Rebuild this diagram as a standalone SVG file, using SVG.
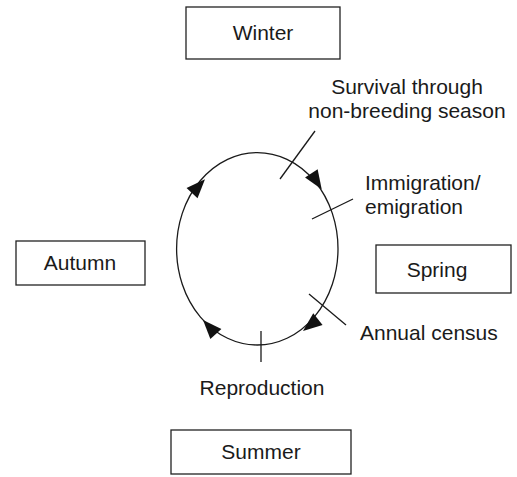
<svg xmlns="http://www.w3.org/2000/svg" width="517" height="477" viewBox="0 0 517 477">
<style>
.box{fill:#fff;stroke:#222;stroke-width:1.3}
.t{font-family:"Liberation Sans",Arial,sans-serif;font-size:21px;fill:#1a1a1a}
.c{text-anchor:middle}
.ln{stroke:#1a1a1a;stroke-width:1.3;fill:none}
.ah{fill:#111}
</style>
<defs>
<path id="ah" d="M0,0 L-19,-7.5 L-19,7.5 Z"/>
</defs>
<g id="winter"><rect class="box" x="186" y="7" width="154" height="52"/><text class="t c" x="263" y="40">Winter</text></g>
<g id="autumn"><rect class="box" x="16" y="241" width="129" height="44"/><text class="t c" x="80" y="270">Autumn</text></g>
<g id="spring"><rect class="box" x="376" y="245" width="135" height="48"/><text class="t c" x="437" y="277">Spring</text></g>
<g id="summer"><rect class="box" x="171" y="430" width="180" height="44"/><text class="t c" x="261" y="459">Summer</text></g>
<g id="cycle">
<ellipse class="ln" cx="257.3" cy="248.8" rx="80.7" ry="96.2"/>
<use href="#ah" class="ah" transform="translate(321.7,189.3) rotate(57)"/>
<use href="#ah" class="ah" transform="translate(205,179.3) rotate(-47)"/>
<use href="#ah" class="ah" transform="translate(303,331) rotate(141.7)"/>
<use href="#ah" class="ah" transform="translate(203,320) rotate(-132.7)"/>
</g>
<g id="connectors">
<line class="ln" x1="315" y1="131" x2="280" y2="179"/>
<line class="ln" x1="353" y1="199" x2="312" y2="219"/>
<line class="ln" x1="309" y1="294" x2="346" y2="325"/>
<line class="ln" x1="261" y1="331" x2="261" y2="362"/>
</g>
<g id="labels">
<text class="t c" x="407" y="94">Survival through</text>
<text class="t c" x="407" y="118">non-breeding season</text>
<text class="t" x="365" y="190">Immigration/</text>
<text class="t" x="365" y="214">emigration</text>
<text class="t" x="360" y="340">Annual census</text>
<text class="t c" x="262" y="395">Reproduction</text>
</g>
</svg>
